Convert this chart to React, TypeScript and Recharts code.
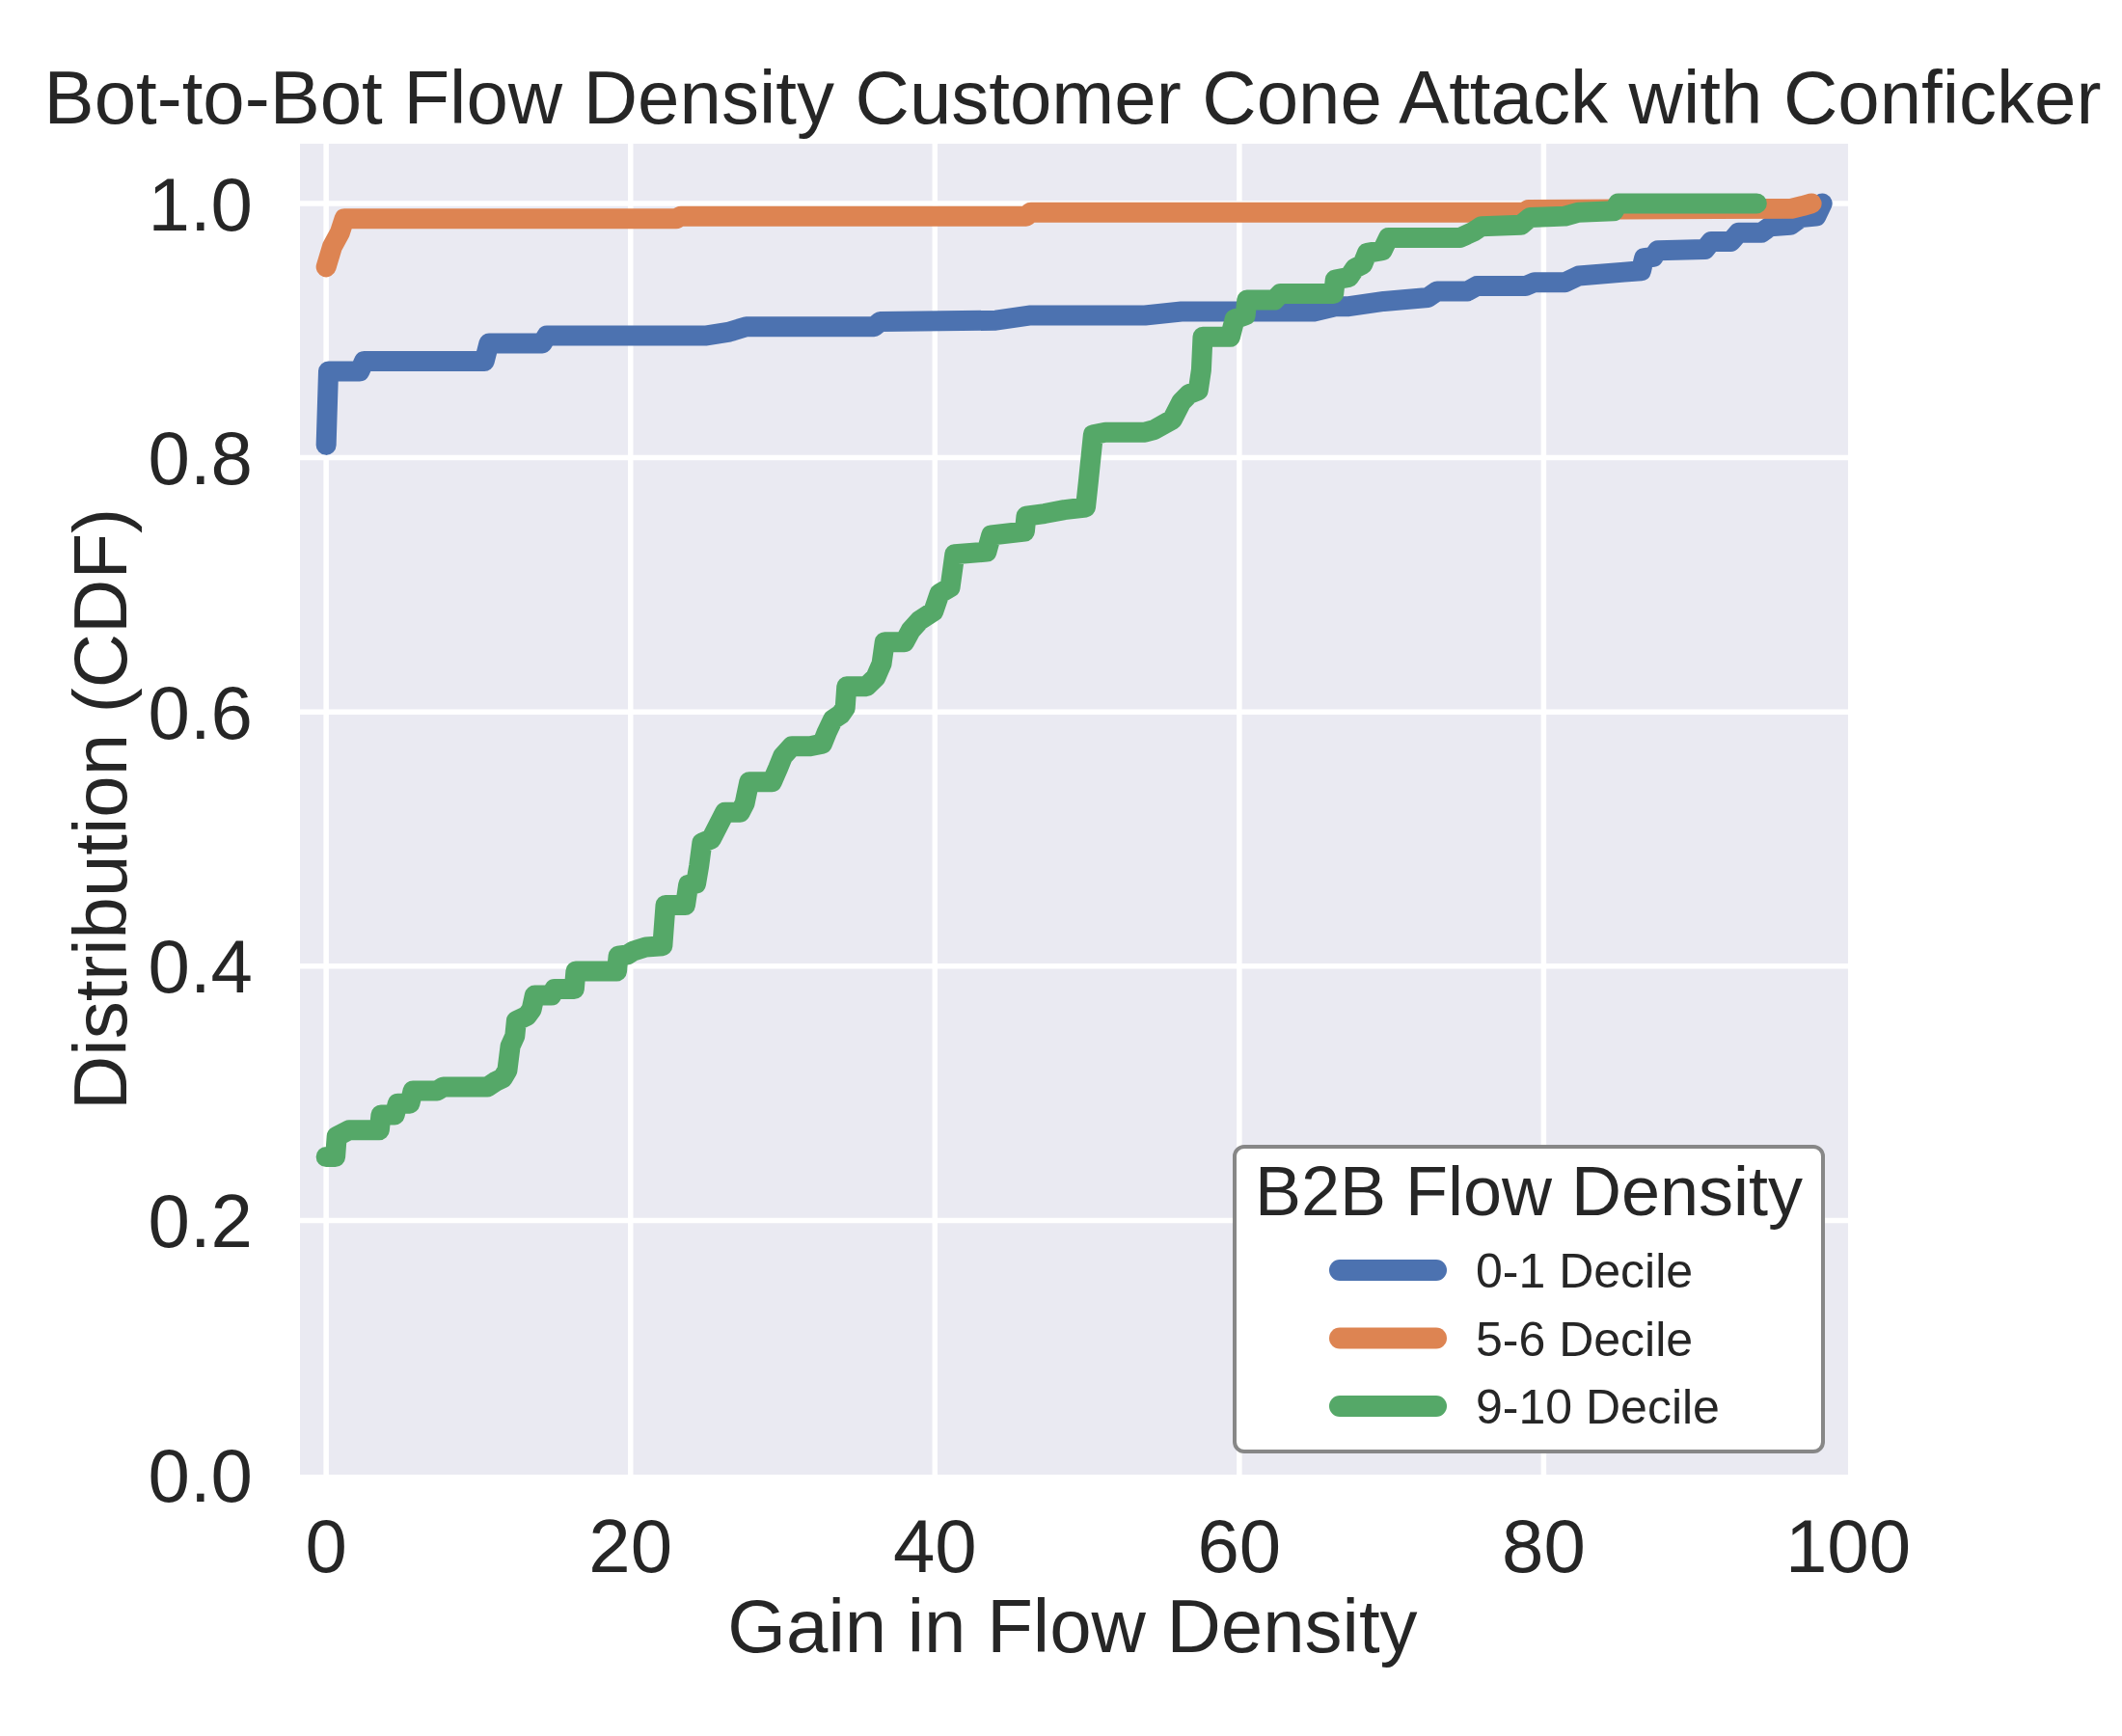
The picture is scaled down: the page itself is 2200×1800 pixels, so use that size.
import React from 'react';
import { LineChart, Line, XAxis, YAxis, CartesianGrid, Legend } from 'recharts';

// gain in flow density (x) and cdf (y)
const decile01Gain = [0, 0.15, 2.2, 2.5, 10.4, 10.7, 14.2, 14.5, 24.9, 26.5, 27.6, 36.0, 36.4, 44.0, 46.3, 53.8, 56.2, 64.9, 66.3, 67.2, 69.5, 72.4, 73.0, 75.0, 75.6, 78.8, 79.4, 81.4, 82.3, 85.3, 86.4, 86.6, 87.2, 87.5, 90.6, 91.0, 92.3, 92.8, 94.3, 94.9, 96.2, 96.9, 97.9, 98.3];
const decile01Cdf = [0.81, 0.868, 0.868, 0.876, 0.876, 0.89, 0.89, 0.896, 0.896, 0.899, 0.903, 0.903, 0.907, 0.908, 0.912, 0.912, 0.915, 0.915, 0.919, 0.919, 0.923, 0.926, 0.931, 0.931, 0.935, 0.935, 0.938, 0.938, 0.943, 0.946, 0.947, 0.957, 0.958, 0.963, 0.964, 0.97, 0.97, 0.977, 0.977, 0.982, 0.983, 0.989, 0.99, 1.0];

const decile56Gain = [0, 0.4, 0.9, 1.2, 23.0, 23.3, 46.0, 46.3, 78.7, 79.0, 96.3, 97.0, 97.6];
const decile56Cdf = [0.95, 0.966, 0.977, 0.988, 0.988, 0.99, 0.99, 0.993, 0.993, 0.995, 0.996, 0.998, 1.0];

const decile910Gain = [0, 0.6, 0.7, 1.5, 3.5, 3.6, 4.5, 4.7, 5.5, 5.7, 7.3, 7.7, 10.6, 11.1, 11.6, 11.9, 12.1, 12.4, 12.5, 13.2, 13.5, 13.7, 14.8, 15.0, 16.3, 16.4, 19.1, 19.2, 19.8, 20.2, 21.0, 22.1, 22.3, 23.6, 23.8, 24.3, 24.5, 24.7, 25.3, 25.6, 26.2, 27.2, 27.5, 27.8, 29.3, 29.7, 30.0, 30.6, 31.8, 32.6, 32.9, 33.3, 33.8, 34.1, 34.2, 35.5, 36.1, 36.5, 36.7, 38.0, 38.4, 39.0, 39.9, 40.3, 41.0, 41.3, 43.4, 43.7, 45.9, 46.0, 47.2, 48.5, 49.9, 50.1, 50.4, 51.2, 53.8, 54.4, 55.6, 56.2, 56.7, 57.3, 57.5, 57.6, 59.4, 59.7, 60.4, 60.5, 62.3, 62.7, 66.2, 66.3, 67.2, 67.6, 68.1, 68.4, 69.4, 69.8, 74.5, 75.4, 75.9, 78.5, 79.1, 81.4, 82.3, 84.6, 84.9, 94.0];
const decile910Cdf = [0.25, 0.25, 0.266, 0.271, 0.271, 0.283, 0.283, 0.292, 0.292, 0.302, 0.302, 0.305, 0.305, 0.309, 0.312, 0.318, 0.337, 0.345, 0.357, 0.361, 0.366, 0.377, 0.377, 0.382, 0.382, 0.396, 0.396, 0.408, 0.409, 0.412, 0.415, 0.416, 0.448, 0.448, 0.464, 0.465, 0.479, 0.497, 0.5, 0.507, 0.521, 0.521, 0.528, 0.545, 0.545, 0.556, 0.565, 0.573, 0.573, 0.575, 0.584, 0.594, 0.598, 0.603, 0.62, 0.62, 0.627, 0.638, 0.655, 0.655, 0.664, 0.672, 0.679, 0.693, 0.698, 0.724, 0.726, 0.739, 0.742, 0.754, 0.756, 0.759, 0.761, 0.783, 0.818, 0.82, 0.82, 0.822, 0.83, 0.844, 0.85, 0.853, 0.869, 0.895, 0.895, 0.909, 0.912, 0.924, 0.924, 0.929, 0.929, 0.94, 0.942, 0.949, 0.952, 0.961, 0.963, 0.973, 0.973, 0.978, 0.982, 0.983, 0.989, 0.99, 0.993, 0.994, 1.0, 1.0];

const xTicks = [0, 20, 40, 60, 80, 100];
const yTicks = [0, 0.2, 0.4, 0.6, 0.8, 1.0];

const series = [
  { name: '0-1 Decile', color: '#4c72b0', gain: decile01Gain, cdf: decile01Cdf },
  { name: '5-6 Decile', color: '#dd8452', gain: decile56Gain, cdf: decile56Cdf },
  { name: '9-10 Decile', color: '#55a868', gain: decile910Gain, cdf: decile910Cdf },
];

const FONT = '"Liberation Sans", Arial, sans-serif';
const INK = '#262626';

function toPoints(gain: number[], cdf: number[]) {
  return gain.map((x, i) => ({ x, y: cdf[i] }));
}

function LegendBox({ payload }: any) {
  return (
    <svg width={614} height={320} style={{ display: 'block' }}>
      <rect x={2} y={2} width={610} height={316} rx={10} fill="#ffffff" stroke="#878787" strokeWidth={4} />
      <text x={307} y={73} textAnchor="middle" fontSize={72} fontFamily={FONT} fill={INK}>
        B2B Flow Density
      </text>
      {(payload || []).map((p: any, i: number) => (
        <g key={p.value}>
          <line x1={111} x2={211} y1={130 + i * 70.5} y2={130 + i * 70.5} stroke={p.color} strokeWidth={22} strokeLinecap="round" />
          <text x={252} y={148 + i * 70.5} fontSize={50} fontFamily={FONT} fill={INK}>
            {p.value}
          </text>
        </g>
      ))}
    </svg>
  );
}

export default function App() {
  return (
    <div style={{ position: 'relative', width: 2200, height: 1800, background: '#fff' }}>
      <style>{'body{margin:0}'}</style>
      <LineChart width={2200} height={1800} margin={{ top: 149, right: 284, bottom: 0, left: 0 }}>
        <CartesianGrid
          fill="#eaeaf2"
          stroke="#ffffff"
          strokeWidth={5.5}
          horizontalValues={[0.2, 0.4, 0.6, 0.8, 1.0]}
          verticalValues={[0, 20, 40, 60, 80]}
        />
        <XAxis
          type="number"
          dataKey="x"
          domain={[-1.72, 100]}
          allowDataOverflow
          ticks={xTicks}
          height={271}
          axisLine={false}
          tickLine={false}
          tickSize={0}
          tickMargin={46}
          tick={{ fontSize: 78, fontFamily: FONT, fill: INK }}
        />
        <YAxis
          type="number"
          dataKey="y"
          domain={[0, 1.047]}
          allowDataOverflow
          ticks={yTicks}
          width={311}
          axisLine={false}
          tickLine={false}
          tickSize={0}
          tickMargin={49}
          tickFormatter={(v: number) => v.toFixed(1)}
          tick={{ fontSize: 78, fontFamily: FONT, fill: INK }}
        />
        {series.map((s) => (
          <Line
            key={s.name}
            name={s.name}
            data={toPoints(s.gain, s.cdf)}
            dataKey="y"
            type="linear"
            stroke={s.color}
            strokeWidth={21}
            strokeLinecap="round"
            strokeLinejoin="round"
            dot={false}
            activeDot={false}
            isAnimationActive={false}
          />
        ))}
        <Legend
          layout="vertical"
          align="center"
          verticalAlign="middle"
          content={<LegendBox />}
          wrapperStyle={{ left: 1278, top: 1187, width: 614, height: 320 }}
        />
      </LineChart>
      <svg width={2200} height={1800} style={{ position: 'absolute', left: 0, top: 0, pointerEvents: 'none' }}>
        <text x={1112} y={128} textAnchor="middle" fontSize={78} fontFamily={FONT} fill={INK}>
          Bot-to-Bot Flow Density Customer Cone Attack with Conficker
        </text>
        <text x={1112} y={1713} textAnchor="middle" fontSize={78} fontFamily={FONT} fill={INK}>
          Gain in Flow Density
        </text>
        <text
          x={131}
          y={839}
          textAnchor="middle"
          fontSize={78}
          fontFamily={FONT}
          fill={INK}
          transform="rotate(-90 131 839)"
        >
          Distribution (CDF)
        </text>
      </svg>
    </div>
  );
}
